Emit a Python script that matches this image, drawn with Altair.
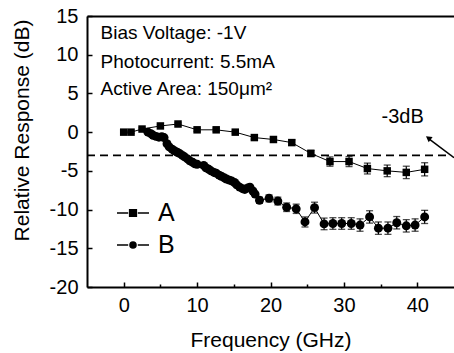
import altair as alt
import pandas as pd

# ---- data ----
freq_a = [0.0, 1.0, 2.5, 5.0, 7.4, 10.0, 12.6, 15.2, 17.8, 20.4, 22.9, 25.5, 28.1, 30.7, 33.2, 35.9, 38.5, 41.0]
resp_a = [0.0, 0.0, 0.4, 0.8, 1.05, 0.3, 0.3, 0.0, -0.7, -0.95, -1.35, -2.75, -3.8, -3.8, -4.7, -5.0, -5.2, -4.8]
err_a = [0.15, 0.15, 0.15, 0.15, 0.15, 0.2, 0.2, 0.2, 0.25, 0.3, 0.35, 0.4, 0.6, 0.65, 0.7, 0.75, 0.8, 0.85]

freq_b = [3.3, 3.7, 4.0, 4.4, 4.8, 5.2, 5.5, 5.9, 6.2, 6.6, 6.9, 7.3, 7.6, 8.0, 8.3,
          8.7, 9.0, 9.4, 9.7, 10.0, 10.9, 11.2, 11.6, 11.9, 12.3, 12.6, 13.0, 13.3, 13.7, 14.0,
          14.4, 14.7, 15.1, 15.4, 15.8, 16.2, 16.5, 16.9, 17.2, 17.6, 17.9, 18.5, 19.8, 21.0, 22.2,
          23.5, 24.7, 26.0, 27.3, 28.5, 29.7, 31.0, 32.2, 33.5, 34.7, 36.0, 37.2, 38.5, 39.7, 41.0]
resp_b = [0.0, -0.2, -0.4, -0.55, -0.65, -0.6, -0.7, -1.5, -1.9, -2.2, -2.4, -2.6, -2.75, -3.0, -3.2,
          -3.45, -3.7, -3.9, -4.1, -4.15, -4.3, -4.6, -4.8, -5.0, -5.2, -5.3, -5.55, -5.7, -5.9, -6.05,
          -6.2, -6.3, -6.5, -6.8, -7.1, -7.3, -7.4, -7.2, -7.1, -7.6, -8.0, -8.8, -8.55, -8.9, -9.7,
          -9.9, -11.6, -9.75, -11.85, -11.8, -11.8, -11.8, -12.0, -10.95, -12.4, -12.4, -11.7, -12.1, -12.0, -10.95]
err_b = [0.2] * 41 + [0.4, 0.45, 0.5, 0.55, 0.6, 0.65, 0.7, 0.75, 0.75, 0.75, 0.75, 0.8, 0.8, 0.8, 0.8, 0.8, 0.8, 0.8, 0.85]

series_names = ["A", "B"]
x_major = [0, 10, 20, 30, 40]
x_minor = [5, 15, 25, 35]
y_ticks = [-20, -15, -10, -5, 0, 5, 10, 15]
notes = ["Bias Voltage: -1V", "Photocurrent: 5.5mA", "Active Area: 150\u03bcm\u00b2"]
ref_label = "-3dB"
ref_level = -3

W, H = 367, 271
FONT = "Liberation Sans"

dfa = pd.DataFrame({"f": freq_a, "r": resp_a, "e": err_a, "s": series_names[0]})
dfb = pd.DataFrame({"f": freq_b, "r": resp_b, "e": err_b, "s": series_names[1]})
df = pd.concat([dfa, dfb], ignore_index=True)
df["lo"] = df["r"] - df["e"]
df["hi"] = df["r"] + df["e"]

xs = alt.Scale(domain=[-5, 45], nice=False, zero=False)
ys = alt.Scale(domain=[-20, 15], nice=False, zero=False)

ax_bottom = alt.Axis(orient="bottom", values=x_major, ticks=False, tickSize=0, domain=True,
                     domainColor="black", domainWidth=2, labelFont=FONT, labelFontSize=20,
                     labelColor="black", labelPadding=8, labelExpr="'' + datum.value",
                     title="Frequency (GHz)", titleFont=FONT, titleFontSize=21,
                     titleFontWeight="normal", titleColor="black", titleY=59,
                     titleBaseline="alphabetic", grid=False)
ax_left = alt.Axis(orient="left", values=y_ticks, ticks=False, tickSize=0, domain=True,
                   domainColor="black", domainWidth=2, labelFont=FONT, labelFontSize=20,
                   labelColor="black", labelPadding=9, labelExpr="'' + datum.value",
                   title="Relative Response (dB)", titleFont=FONT, titleFontSize=21,
                   titleFontWeight="normal", titleColor="black", titleX=-65, titleY=114,
                   titleAngle=270, titleAlign="center", titleBaseline="middle", grid=False)
ax_x_major = alt.Axis(orient="top", offset=-H, values=x_major, ticks=True, tickSize=5,
                      tickWidth=1.5, tickColor="black", labels=False, domain=False, grid=False, title="")
ax_x_minor = alt.Axis(orient="top", offset=-H, values=x_minor, ticks=True, tickSize=3,
                      tickWidth=1.5, tickColor="black", labels=False, domain=False, grid=False, title="")
ax_top = alt.Axis(orient="top", ticks=False, labels=False, domain=True, domainColor="black",
                  domainWidth=2, grid=False, title="")
ax_y_ticks = alt.Axis(orient="right", offset=-W, values=y_ticks, ticks=True, tickSize=5,
                      tickWidth=1.5, tickColor="black", labels=False, domain=False, grid=False, title="")

base = alt.Chart(df)

lines = base.mark_line(color="black", strokeWidth=1).encode(
    x=alt.X("f:Q", scale=xs, axis=ax_bottom),
    y=alt.Y("r:Q", scale=ys, axis=ax_left),
    detail="s:N",
)
err_rules = base.mark_rule(color="black", strokeWidth=1.2).encode(
    x=alt.X("f:Q", scale=xs, axis=ax_x_major),
    y=alt.Y("lo:Q", scale=ys, axis=ax_y_ticks),
    y2="hi:Q",
)
caps_lo = base.mark_tick(color="black", orient="horizontal", size=7, thickness=1.3).encode(
    x=alt.X("f:Q", scale=xs, axis=ax_x_minor),
    y=alt.Y("lo:Q", scale=ys, axis=None),
)
caps_hi = base.mark_tick(color="black", orient="horizontal", size=7, thickness=1.3).encode(
    x=alt.X("f:Q", scale=xs, axis=ax_top),
    y=alt.Y("hi:Q", scale=ys, axis=None),
)
pts_a = base.transform_filter(alt.datum.s == series_names[0]).mark_point(
    shape="square", filled=True, size=56, color="black", opacity=1).encode(
    x=alt.X("f:Q", scale=xs, axis=None),
    y=alt.Y("r:Q", scale=ys, axis=None),
)
pts_b = base.transform_filter(alt.datum.s == series_names[1]).mark_point(
    shape="circle", filled=True, size=80, color="black", opacity=1).encode(
    x=alt.X("f:Q", scale=xs, axis=None),
    y=alt.Y("r:Q", scale=ys, axis=None),
)

# legend glyphs "-■-" and "-●-" drawn as stroked paths (solid centre made of close strokes)
sym_a = ("M-1,0H-0.3M0.3,0H1"
         "M-0.21,-0.21H0.21V0.21H-0.21Z"
         "M-0.21,-0.13H0.21M-0.21,-0.05H0.21M-0.21,0.05H0.21M-0.21,0.13H0.21")
sym_b = ("M-1,0H-0.3M0.3,0H1"
         "M-0.19,0A0.19,0.19,0,1,1,0.19,0A0.19,0.19,0,1,1,-0.19,0Z"
         "M-0.12,0A0.12,0.12,0,1,1,0.12,0A0.12,0.12,0,1,1,-0.12,0Z"
         "M-0.05,0A0.05,0.05,0,1,1,0.05,0A0.05,0.05,0,1,1,-0.05,0Z")
legend_layer = base.mark_point(filled=False, color="black", strokeWidth=1.5, opacity=0).encode(
    x=alt.X("f:Q", scale=xs, axis=None),
    y=alt.Y("r:Q", scale=ys, axis=None),
    shape=alt.Shape("s:N", scale=alt.Scale(domain=series_names, range=[sym_a, sym_b]),
                    legend=alt.Legend(orient="none", legendX=29, legendY=180, title=None,
                                      symbolSize=1024, symbolStrokeColor="black",
                                      symbolStrokeWidth=1.5, symbolOpacity=1,
                                      labelFont=FONT, labelFontSize=25,
                                      labelColor="black", labelOffset=8, rowPadding=2,
                                      padding=0)),
)

dash = alt.Chart().mark_rule(color="black", strokeWidth=1.8, strokeDash=[8, 5]).encode(
    x=alt.X(datum=-5, scale=xs, axis=None),
    x2=alt.X2(datum=44.6),
    y=alt.Y(datum=ref_level, scale=ys, axis=None),
)
arrow_line = alt.Chart().mark_rule(color="black", strokeWidth=1.5).encode(
    x=alt.X(datum=41.5, scale=xs, axis=None),
    x2=alt.X2(datum=45.0),
    y=alt.Y(datum=-0.8, scale=ys, axis=None),
    y2=alt.Y2(datum=-3.3),
)
arrow_head = alt.Chart().mark_point(shape="triangle-up", filled=True, color="black",
                                    size=45, angle=306, opacity=1).encode(
    x=alt.X(datum=41.5, scale=xs, axis=None),
    y=alt.Y(datum=-0.75, scale=ys, axis=None),
)
ref_text = alt.Chart().mark_text(text=ref_label, font=FONT, fontSize=20, color="black",
                                 align="center", baseline="middle").encode(
    x=alt.X(datum=38.0, scale=xs, axis=None),
    y=alt.Y(datum=2.0, scale=ys, axis=None),
)
note_y = [12.85, 9.1, 5.55]
note_layers = [
    alt.Chart().mark_text(text=t, font=FONT, fontSize=19, color="black",
                          align="left", baseline="middle").encode(
        x=alt.X(datum=-3.15, scale=xs, axis=None),
        y=alt.Y(datum=yv, scale=ys, axis=None),
    )
    for t, yv in zip(notes, note_y)
]

chart = alt.layer(
    lines, err_rules, caps_lo, caps_hi, pts_a, pts_b, legend_layer,
    dash, arrow_line, arrow_head, ref_text, *note_layers,
).resolve_axis(x="independent", y="independent").properties(
    width=W, height=H, autosize="none",
    padding={"left": 87, "top": 16, "right": 0, "bottom": 66},
    background="white",
).configure_view(stroke=None).configure_axis(grid=False)

chart.save("out.html", embed_options={"renderer": "svg", "actions": False})
